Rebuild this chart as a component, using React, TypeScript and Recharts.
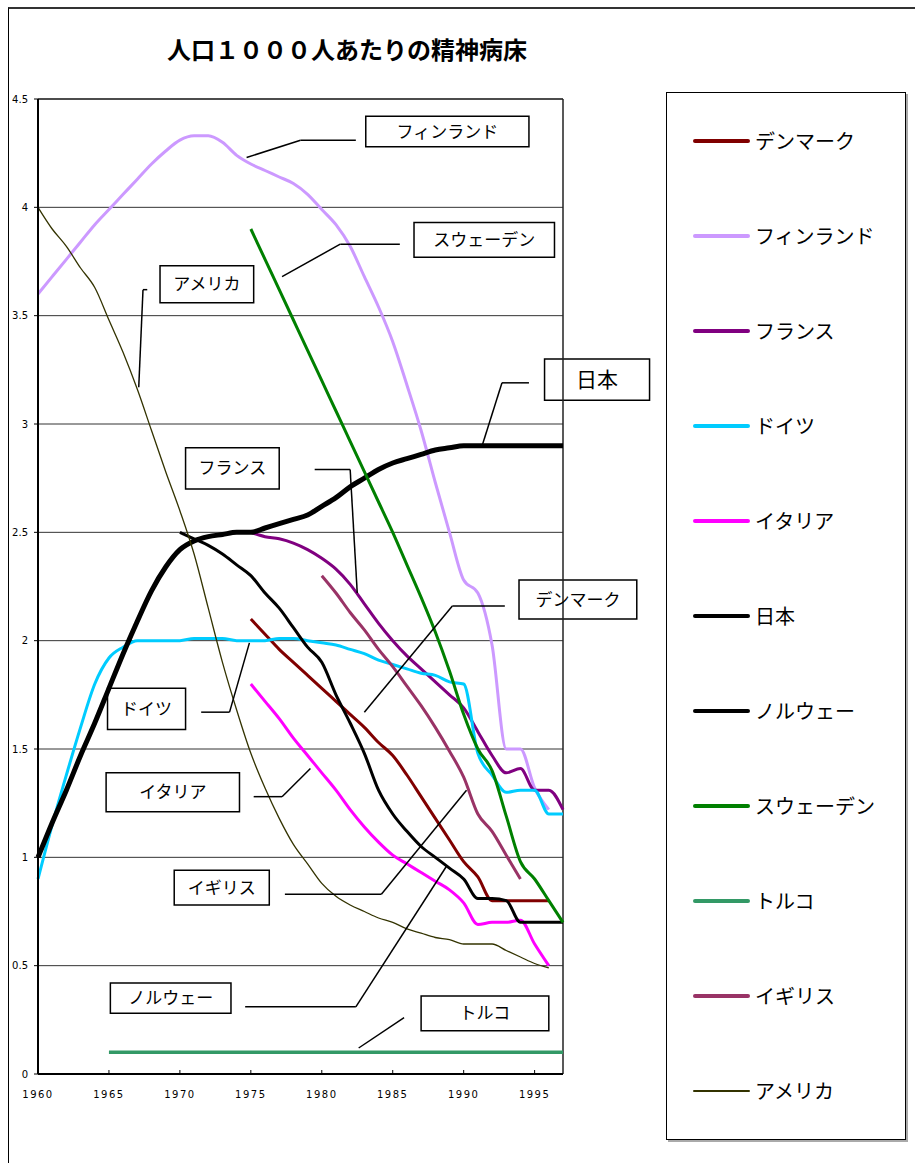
import { LineChart, Line, XAxis, YAxis, CartesianGrid, ReferenceArea, ReferenceLine } from 'recharts';

const years = [
  1960, 1961, 1962, 1963, 1964, 1965, 1966, 1967, 1968, 1969,
  1970, 1971, 1972, 1973, 1974, 1975, 1976, 1977, 1978, 1979,
  1980, 1981, 1982, 1983, 1984, 1985, 1986, 1987, 1988, 1989,
  1990, 1991, 1992, 1993, 1994, 1995, 1996, 1997,
];

const xTicks = [1960, 1965, 1970, 1975, 1980, 1985, 1990, 1995];
const yTicks = [0, 0.5, 1, 1.5, 2, 2.5, 3, 3.5, 4, 4.5];

// beds per 1000 people, one value per year (null = no data)
const denmark = [
  null, null, null, null, null, null, null, null, null, null,
  null, null, null, null, null, 2.1, 2.03, 1.96, 1.9, 1.84,
  1.78, 1.72, 1.66, 1.6, 1.53, 1.47, 1.38, 1.28, 1.18, 1.08,
  0.98, 0.91, 0.8, 0.8, 0.8, 0.8, 0.8, null,
];
const finland = [
  3.6, 3.68, 3.76, 3.84, 3.92, 3.99, 4.06, 4.13, 4.2, 4.26,
  4.31, 4.33, 4.33, 4.3, 4.24, 4.2, 4.17, 4.14, 4.11, 4.06,
  3.99, 3.92, 3.82, 3.68, 3.54, 3.38, 3.18, 2.97, 2.73, 2.5,
  2.28, 2.22, 1.98, 1.5, 1.5, 1.32, 1.22, null,
];
const france = [
  null, null, null, null, null, null, null, null, null, null,
  null, null, null, null, null, 2.5, 2.48, 2.47, 2.45, 2.42,
  2.38, 2.33, 2.26, 2.17, 2.08, 2.0, 1.93, 1.87, 1.81, 1.75,
  1.69, 1.58, 1.47, 1.39, 1.41, 1.31, 1.31, 1.22,
];
const germany = [
  0.9, 1.15, 1.38, 1.6, 1.8, 1.92, 1.97, 2.0, 2.0, 2.0,
  2.0, 2.01, 2.01, 2.01, 2.0, 2.0, 2.0, 2.01, 2.01, 2.0,
  1.99, 1.98, 1.96, 1.94, 1.91, 1.89, 1.87, 1.85, 1.84, 1.81,
  1.8, 1.48, 1.38, 1.3, 1.31, 1.31, 1.2, 1.2,
];
const italy = [
  null, null, null, null, null, null, null, null, null, null,
  null, null, null, null, null, 1.8, 1.72, 1.64, 1.55, 1.47,
  1.39, 1.31, 1.22, 1.14, 1.07, 1.01, 0.97, 0.93, 0.89, 0.85,
  0.79, 0.69, 0.7, 0.7, 0.71, 0.6, 0.5, null,
];
const japan = [
  1.0, 1.16, 1.31, 1.47, 1.62, 1.78, 1.94, 2.09, 2.23, 2.34,
  2.42, 2.46, 2.48, 2.49, 2.5, 2.5, 2.52, 2.54, 2.56, 2.58,
  2.62, 2.66, 2.71, 2.75, 2.79, 2.82, 2.84, 2.86, 2.88, 2.89,
  2.9, 2.9, 2.9, 2.9, 2.9, 2.9, 2.9, 2.9,
];
const norway = [
  null, null, null, null, null, null, null, null, null, null,
  2.5, 2.47, 2.44, 2.4, 2.35, 2.3, 2.22, 2.15, 2.06, 1.97,
  1.9, 1.75, 1.62, 1.48, 1.31, 1.2, 1.12, 1.05, 1.0, 0.95,
  0.9, 0.81, 0.81, 0.8, 0.7, 0.7, 0.7, 0.7,
];
const sweden = [
  null, null, null, null, null, null, null, null, null, null,
  null, null, null, null, null, 3.9, 3.76, 3.62, 3.48, 3.34,
  3.2, 3.06, 2.92, 2.78, 2.64, 2.5, 2.35, 2.2, 2.04, 1.86,
  1.66, 1.5, 1.4, 1.19, 0.98, 0.9, 0.8, 0.7,
];
const turkey = [
  null, null, null, null, null, 0.1, 0.1, 0.1, 0.1, 0.1,
  0.1, 0.1, 0.1, 0.1, 0.1, 0.1, 0.1, 0.1, 0.1, 0.1,
  0.1, 0.1, 0.1, 0.1, 0.1, 0.1, 0.1, 0.1, 0.1, 0.1,
  0.1, 0.1, 0.1, 0.1, 0.1, 0.1, 0.1, 0.1,
];
const uk = [
  null, null, null, null, null, null, null, null, null, null,
  null, null, null, null, null, null, null, null, null, null,
  2.3, 2.22, 2.13, 2.05, 1.96, 1.88, 1.79, 1.7, 1.6, 1.49,
  1.37, 1.2, 1.12, 1.01, 0.9, null, null, null,
];
const usa = [
  4.0, 3.9, 3.82, 3.72, 3.63, 3.48, 3.33, 3.16, 2.97, 2.78,
  2.6, 2.4, 2.15, 1.9, 1.68, 1.48, 1.32, 1.18, 1.06, 0.97,
  0.88, 0.82, 0.78, 0.75, 0.72, 0.7, 0.67, 0.65, 0.63, 0.62,
  0.6, 0.6, 0.6, 0.57, 0.54, 0.51, 0.49, null,
];

const series = [
  { key: 'denmark', name: 'デンマーク', values: denmark, color: '#800000', width: 3 },
  { key: 'finland', name: 'フィンランド', values: finland, color: '#cc99ff', width: 3 },
  { key: 'france', name: 'フランス', values: france, color: '#800080', width: 3 },
  { key: 'germany', name: 'ドイツ', values: germany, color: '#00ccff', width: 3 },
  { key: 'italy', name: 'イタリア', values: italy, color: '#ff00ff', width: 3 },
  { key: 'japan', name: '日本', values: japan, color: '#000000', width: 5 },
  { key: 'norway', name: 'ノルウェー', values: norway, color: '#000000', width: 3 },
  { key: 'sweden', name: 'スウェーデン', values: sweden, color: '#008000', width: 3 },
  { key: 'turkey', name: 'トルコ', values: turkey, color: '#339966', width: 3.5 },
  { key: 'uk', name: 'イギリス', values: uk, color: '#993366', width: 3 },
  { key: 'usa', name: 'アメリカ', values: usa, color: '#333300', width: 1.3 },
];

const data = years.map((year, i) => {
  const row: Record<string, number | null> = { year };
  series.forEach((s) => { row[s.key] = s.values[i]; });
  return row;
});

// callout boxes: [x1, x2, y1, y2] in data units, leader polyline in data units
const callouts = [
  { text: 'フィンランド', box: [1983.1, 1994.6, 4.28, 4.42], leader: [[1974.7, 4.23], [1978.5, 4.31], [1982.4, 4.31]] },
  { text: 'スウェーデン', box: [1986.5, 1996.4, 3.77, 3.93], leader: [[1977.2, 3.68], [1981.3, 3.83], [1985.5, 3.83]] },
  { text: 'アメリカ', box: [1968.6, 1975.2, 3.56, 3.73], leader: [[1967.1, 3.17], [1967.4, 3.62], [1967.7, 3.62]] },
  { text: '日本', box: [1995.7, 2003.1, 3.11, 3.3], leader: [[1991.3, 2.9], [1992.7, 3.19], [1994.6, 3.19]], size: 21 },
  { text: 'フランス', box: [1970.4, 1977.0, 2.7, 2.89], leader: [[1979.5, 2.79], [1982.0, 2.79], [1982.5, 2.22]] },
  { text: 'デンマーク', box: [1993.9, 2002.2, 2.1, 2.28], leader: [[1983.0, 1.67], [1989.2, 2.16], [1992.9, 2.16]] },
  { text: 'ドイツ', box: [1964.9, 1970.4, 1.59, 1.78], leader: [[1971.5, 1.67], [1973.5, 1.67], [1974.9, 1.99]] },
  { text: 'イタリア', box: [1964.8, 1974.2, 1.21, 1.39], leader: [[1975.2, 1.28], [1977.2, 1.28], [1979.2, 1.41]] },
  { text: 'イギリス', box: [1969.6, 1976.3, 0.78, 0.94], leader: [[1977.4, 0.83], [1984.2, 0.83], [1990.2, 1.31]] },
  { text: 'ノルウェー', box: [1965.1, 1973.6, 0.28, 0.42], leader: [[1974.6, 0.31], [1982.4, 0.31], [1988.8, 0.96]] },
  { text: 'トルコ', box: [1987.0, 1996.0, 0.2, 0.36], leader: [[1982.6, 0.12], [1985.8, 0.26]] },
];

const font = '"Noto Sans CJK JP", "Noto Sans", sans-serif';

export default function App() {
  return (
    <div style={{ position: 'absolute', left: 0, top: 0, width: 915, height: 1163, background: '#fff', fontFamily: font, overflow: 'hidden' }}>
      <div style={{ position: 'absolute', left: 8, top: 7, right: -5, bottom: -5, borderLeft: '1.5px solid #000', borderTop: '2px solid #333' }} />
      <div style={{ position: 'absolute', left: 0, width: 694, top: 31, textAlign: 'center', fontSize: 24, fontWeight: 'bold', color: '#000' }}>
        人口１０００人あたりの精神病床
      </div>

      <div style={{ position: 'absolute', left: 0, top: 0 }}>
        <LineChart width={915} height={1163} data={data} margin={{ top: 99, right: 352, bottom: 59, left: 8 }}>
          <CartesianGrid vertical={false} stroke="#333" strokeWidth={1} />
          <XAxis
            dataKey="year"
            type="number"
            domain={[1960, 1997]}
            ticks={xTicks}
            interval={0}
            height={30}
            tickSize={-4}
            tickMargin={21}
            axisLine={{ stroke: '#000', strokeWidth: 2 }}
            tickLine={{ stroke: '#000' }}
            tick={{ fill: '#000', fontSize: 10, letterSpacing: 1.5, fontFamily: '"DejaVu Sans", sans-serif' }}
          />
          <YAxis
            type="number"
            domain={[0, 4.5]}
            ticks={yTicks}
            interval={0}
            width={30}
            tickSize={4}
            tickMargin={6}
            axisLine={{ stroke: '#000', strokeWidth: 2 }}
            tickLine={{ stroke: '#000' }}
            tick={{ fill: '#000', fontSize: 10, fontFamily: '"DejaVu Sans", sans-serif' }}
          />
          <ReferenceLine y={4.5} stroke="#333" strokeWidth={1.5} />
          <ReferenceLine x={1997} stroke="#222" strokeWidth={1.5} />
          {series.map((s) => (
            <Line
              key={s.key}
              dataKey={s.key}
              name={s.name}
              type="monotone"
              stroke={s.color}
              strokeWidth={s.width}
              dot={false}
              activeDot={false}
              isAnimationActive={false}
            />
          ))}
          {callouts.flatMap((c) =>
            c.leader.slice(1).map((p, i) => (
              <ReferenceLine
                key={`${c.text}-l${i}`}
                segment={[{ x: c.leader[i][0], y: c.leader[i][1] }, { x: p[0], y: p[1] }]}
                stroke="#000"
                strokeWidth={1.5}
                ifOverflow="visible"
              />
            ))
          )}
          {callouts.map((c) => (
            <ReferenceArea
              key={c.text}
              x1={c.box[0]}
              x2={c.box[1]}
              y1={c.box[2]}
              y2={c.box[3]}
              fill="#fff"
              fillOpacity={1}
              stroke="#000"
              strokeWidth={1.5}
              ifOverflow="visible"
              label={{ value: c.text, position: 'center', fill: '#000', fontSize: c.size ?? 17 }}
            />
          ))}
        </LineChart>
      </div>

      {/* legend */}
      <div style={{ position: 'absolute', left: 666, top: 92, width: 240, height: 1048, border: '1.5px solid #000', boxSizing: 'border-box', boxShadow: '2px 2px 0 #aaa', background: '#fff' }}>
        {series.map((s, i) => (
          <div key={s.key} style={{ position: 'absolute', left: 0, top: 48 + i * 95 - 14, height: 28, width: 238 }}>
            <div style={{ position: 'absolute', left: 26, top: 14 - (s.width > 2 ? 2 : 1), width: 57, height: s.width > 2 ? 4 : 2, background: s.color, borderRadius: 2 }} />
            <div style={{ position: 'absolute', left: 88, top: 0, fontSize: 20, lineHeight: '28px', color: '#000', whiteSpace: 'nowrap' }}>{s.name}</div>
          </div>
        ))}
      </div>
    </div>
  );
}
